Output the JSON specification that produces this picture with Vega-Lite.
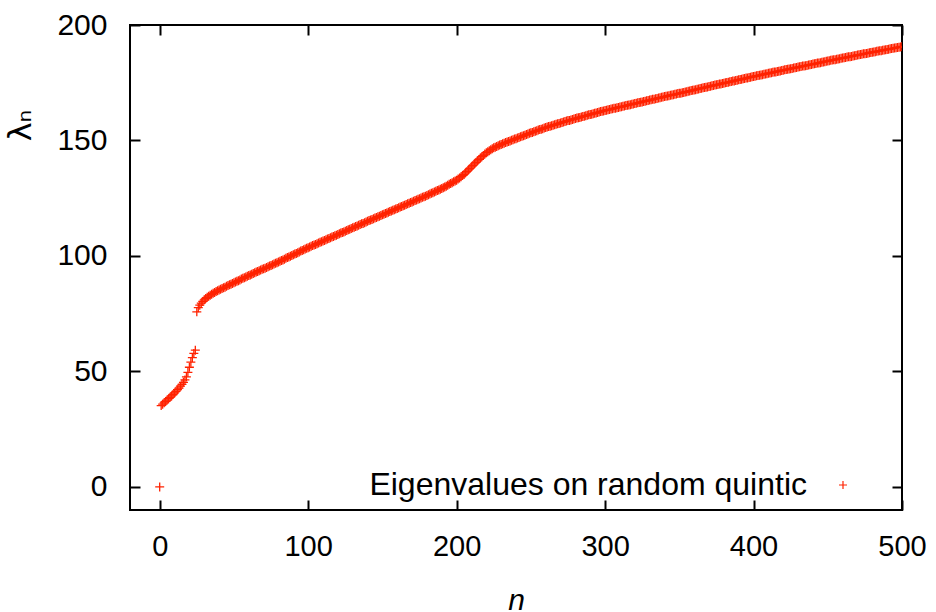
{
"$schema": "https://vega.github.io/schema/vega-lite/v6.json",
"width": 772, "height": 485,
"autosize": "none",
"padding": {"left": 130, "top": 25, "right": 34, "bottom": 102},
"background": "white",
"config": {"view": {"stroke": "black", "strokeWidth": 2}, "font": "Liberation Sans"},
"data": {"values": [
{"n":0,"v":0},{"n":1,"v":35.2},{"n":2,"v":35.8},{"n":3,"v":36.4},{"n":4,"v":37.0},{"n":5,"v":37.6},{"n":6,"v":38.2},{"n":7,"v":38.8},{"n":8,"v":39.4},{"n":9,"v":40.0},
{"n":10,"v":40.7},{"n":11,"v":41.4},{"n":12,"v":42.1},{"n":13,"v":42.8},{"n":14,"v":43.6},{"n":15,"v":44.4},{"n":16,"v":45.3},{"n":17,"v":46.3},{"n":18,"v":47.6},{"n":19,"v":49.6},
{"n":20,"v":51.8},{"n":21,"v":54.0},{"n":22,"v":56.0},{"n":23,"v":57.8},{"n":24,"v":59.2},{"n":25,"v":75.8},{"n":26,"v":77.6},{"n":27,"v":78.7},{"n":28,"v":79.6},{"n":29,"v":80.3},
{"n":30,"v":81.0},{"n":31,"v":81.6},{"n":32,"v":82.1},{"n":33,"v":82.6},{"n":34,"v":83.0},{"n":35,"v":83.4},{"n":36,"v":83.8},{"n":37,"v":84.2},{"n":38,"v":84.6},{"n":39,"v":84.9},
{"n":40,"v":85.3},{"n":41,"v":85.6},{"n":42,"v":85.9},{"n":43,"v":86.2},{"n":44,"v":86.5},{"n":45,"v":86.9},{"n":46,"v":87.2},{"n":47,"v":87.5},{"n":48,"v":87.8},{"n":49,"v":88.1},
{"n":50,"v":88.4},{"n":51,"v":88.7},{"n":52,"v":89.0},{"n":53,"v":89.3},{"n":54,"v":89.6},{"n":55,"v":90.0},{"n":56,"v":90.3},{"n":57,"v":90.6},{"n":58,"v":90.9},{"n":59,"v":91.2},
{"n":60,"v":91.5},{"n":61,"v":91.8},{"n":62,"v":92.1},{"n":63,"v":92.4},{"n":64,"v":92.7},{"n":65,"v":93.0},{"n":66,"v":93.3},{"n":67,"v":93.6},{"n":68,"v":93.9},{"n":69,"v":94.2},
{"n":70,"v":94.5},{"n":71,"v":94.7},{"n":72,"v":95.0},{"n":73,"v":95.3},{"n":74,"v":95.6},{"n":75,"v":95.9},{"n":76,"v":96.2},{"n":77,"v":96.5},{"n":78,"v":96.8},{"n":79,"v":97.1},
{"n":80,"v":97.4},{"n":81,"v":97.7},{"n":82,"v":98.0},{"n":83,"v":98.3},{"n":84,"v":98.6},{"n":85,"v":99.0},{"n":86,"v":99.3},{"n":87,"v":99.6},{"n":88,"v":99.9},{"n":89,"v":100.2},
{"n":90,"v":100.5},{"n":91,"v":100.8},{"n":92,"v":101.1},{"n":93,"v":101.4},{"n":94,"v":101.7},{"n":95,"v":102.1},{"n":96,"v":102.4},{"n":97,"v":102.7},{"n":98,"v":103.0},{"n":99,"v":103.3},
{"n":100,"v":103.6},{"n":101,"v":103.9},{"n":102,"v":104.2},{"n":103,"v":104.5},{"n":104,"v":104.7},{"n":105,"v":105.0},{"n":106,"v":105.3},{"n":107,"v":105.6},{"n":108,"v":105.9},{"n":109,"v":106.2},
{"n":110,"v":106.5},{"n":111,"v":106.7},{"n":112,"v":107.0},{"n":113,"v":107.3},{"n":114,"v":107.6},{"n":115,"v":107.9},{"n":116,"v":108.2},{"n":117,"v":108.4},{"n":118,"v":108.7},{"n":119,"v":109.0},
{"n":120,"v":109.3},{"n":121,"v":109.6},{"n":122,"v":109.9},{"n":123,"v":110.2},{"n":124,"v":110.4},{"n":125,"v":110.7},{"n":126,"v":111.0},{"n":127,"v":111.3},{"n":128,"v":111.6},{"n":129,"v":111.9},
{"n":130,"v":112.2},{"n":131,"v":112.4},{"n":132,"v":112.7},{"n":133,"v":113.0},{"n":134,"v":113.3},{"n":135,"v":113.6},{"n":136,"v":113.9},{"n":137,"v":114.1},{"n":138,"v":114.4},{"n":139,"v":114.7},
{"n":140,"v":115.0},{"n":141,"v":115.3},{"n":142,"v":115.6},{"n":143,"v":115.8},{"n":144,"v":116.1},{"n":145,"v":116.4},{"n":146,"v":116.7},{"n":147,"v":117.0},{"n":148,"v":117.2},{"n":149,"v":117.5},
{"n":150,"v":117.8},{"n":151,"v":118.1},{"n":152,"v":118.4},{"n":153,"v":118.6},{"n":154,"v":118.9},{"n":155,"v":119.2},{"n":156,"v":119.5},{"n":157,"v":119.8},{"n":158,"v":120.0},{"n":159,"v":120.3},
{"n":160,"v":120.6},{"n":161,"v":120.9},{"n":162,"v":121.2},{"n":163,"v":121.4},{"n":164,"v":121.7},{"n":165,"v":122.0},{"n":166,"v":122.3},{"n":167,"v":122.6},{"n":168,"v":122.8},{"n":169,"v":123.1},
{"n":170,"v":123.4},{"n":171,"v":123.7},{"n":172,"v":124.0},{"n":173,"v":124.2},{"n":174,"v":124.5},{"n":175,"v":124.8},{"n":176,"v":125.1},{"n":177,"v":125.4},{"n":178,"v":125.6},{"n":179,"v":125.9},
{"n":180,"v":126.2},{"n":181,"v":126.5},{"n":182,"v":126.8},{"n":183,"v":127.1},{"n":184,"v":127.4},{"n":185,"v":127.7},{"n":186,"v":128.0},{"n":187,"v":128.3},{"n":188,"v":128.6},{"n":189,"v":128.9},
{"n":190,"v":129.2},{"n":191,"v":129.5},{"n":192,"v":129.9},{"n":193,"v":130.2},{"n":194,"v":130.6},{"n":195,"v":131.0},{"n":196,"v":131.4},{"n":197,"v":131.7},{"n":198,"v":132.1},{"n":199,"v":132.4},
{"n":200,"v":132.8},{"n":201,"v":133.3},{"n":202,"v":133.8},{"n":203,"v":134.3},{"n":204,"v":134.8},{"n":205,"v":135.3},{"n":206,"v":136.0},{"n":207,"v":136.6},{"n":208,"v":137.3},{"n":209,"v":137.9},
{"n":210,"v":138.6},{"n":211,"v":139.2},{"n":212,"v":139.9},{"n":213,"v":140.5},{"n":214,"v":141.2},{"n":215,"v":141.8},{"n":216,"v":142.4},{"n":217,"v":143.0},{"n":218,"v":143.5},{"n":219,"v":144.1},
{"n":220,"v":144.7},{"n":221,"v":145.1},{"n":222,"v":145.5},{"n":223,"v":146.0},{"n":224,"v":146.4},{"n":225,"v":146.8},{"n":226,"v":147.1},{"n":227,"v":147.4},{"n":228,"v":147.7},{"n":229,"v":148.0},
{"n":230,"v":148.3},{"n":231,"v":148.6},{"n":232,"v":148.8},{"n":233,"v":149.1},{"n":234,"v":149.3},{"n":235,"v":149.6},{"n":236,"v":149.8},{"n":237,"v":150.1},{"n":238,"v":150.3},{"n":239,"v":150.6},
{"n":240,"v":150.8},{"n":241,"v":151.1},{"n":242,"v":151.3},{"n":243,"v":151.6},{"n":244,"v":151.8},{"n":245,"v":152.1},{"n":246,"v":152.3},{"n":247,"v":152.6},{"n":248,"v":152.8},{"n":249,"v":153.1},
{"n":250,"v":153.3},{"n":251,"v":153.5},{"n":252,"v":153.8},{"n":253,"v":154.0},{"n":254,"v":154.2},{"n":255,"v":154.5},{"n":256,"v":154.7},{"n":257,"v":154.9},{"n":258,"v":155.1},{"n":259,"v":155.4},
{"n":260,"v":155.6},{"n":261,"v":155.8},{"n":262,"v":156.0},{"n":263,"v":156.2},{"n":264,"v":156.4},{"n":265,"v":156.6},{"n":266,"v":156.8},{"n":267,"v":157.0},{"n":268,"v":157.2},{"n":269,"v":157.4},
{"n":270,"v":157.6},{"n":271,"v":157.8},{"n":272,"v":158.0},{"n":273,"v":158.2},{"n":274,"v":158.4},{"n":275,"v":158.6},{"n":276,"v":158.7},{"n":277,"v":158.9},{"n":278,"v":159.1},{"n":279,"v":159.3},
{"n":280,"v":159.5},{"n":281,"v":159.7},{"n":282,"v":159.8},{"n":283,"v":160.0},{"n":284,"v":160.2},{"n":285,"v":160.4},{"n":286,"v":160.5},{"n":287,"v":160.7},{"n":288,"v":160.9},{"n":289,"v":161.1},
{"n":290,"v":161.3},{"n":291,"v":161.4},{"n":292,"v":161.6},{"n":293,"v":161.8},{"n":294,"v":161.9},{"n":295,"v":162.1},{"n":296,"v":162.3},{"n":297,"v":162.5},{"n":298,"v":162.7},{"n":299,"v":162.8},
{"n":300,"v":163.0},{"n":301,"v":163.1},{"n":302,"v":163.3},{"n":303,"v":163.4},{"n":304,"v":163.6},{"n":305,"v":163.7},{"n":306,"v":163.9},{"n":307,"v":164.0},{"n":308,"v":164.2},{"n":309,"v":164.3},
{"n":310,"v":164.5},{"n":311,"v":164.6},{"n":312,"v":164.8},{"n":313,"v":164.9},{"n":314,"v":165.1},{"n":315,"v":165.2},{"n":316,"v":165.4},{"n":317,"v":165.5},{"n":318,"v":165.7},{"n":319,"v":165.8},
{"n":320,"v":166.0},{"n":321,"v":166.1},{"n":322,"v":166.3},{"n":323,"v":166.4},{"n":324,"v":166.6},{"n":325,"v":166.7},{"n":326,"v":166.9},{"n":327,"v":167.0},{"n":328,"v":167.2},{"n":329,"v":167.3},
{"n":330,"v":167.5},{"n":331,"v":167.6},{"n":332,"v":167.8},{"n":333,"v":167.9},{"n":334,"v":168.1},{"n":335,"v":168.2},{"n":336,"v":168.4},{"n":337,"v":168.5},{"n":338,"v":168.7},{"n":339,"v":168.8},
{"n":340,"v":169.0},{"n":341,"v":169.1},{"n":342,"v":169.3},{"n":343,"v":169.4},{"n":344,"v":169.6},{"n":345,"v":169.7},{"n":346,"v":169.8},{"n":347,"v":170.0},{"n":348,"v":170.1},{"n":349,"v":170.3},
{"n":350,"v":170.4},{"n":351,"v":170.5},{"n":352,"v":170.7},{"n":353,"v":170.8},{"n":354,"v":171.0},{"n":355,"v":171.1},{"n":356,"v":171.3},{"n":357,"v":171.4},{"n":358,"v":171.6},{"n":359,"v":171.7},
{"n":360,"v":171.9},{"n":361,"v":172.0},{"n":362,"v":172.2},{"n":363,"v":172.3},{"n":364,"v":172.5},{"n":365,"v":172.6},{"n":366,"v":172.8},{"n":367,"v":172.9},{"n":368,"v":173.1},{"n":369,"v":173.2},
{"n":370,"v":173.4},{"n":371,"v":173.5},{"n":372,"v":173.7},{"n":373,"v":173.8},{"n":374,"v":174.0},{"n":375,"v":174.1},{"n":376,"v":174.2},{"n":377,"v":174.4},{"n":378,"v":174.5},{"n":379,"v":174.7},
{"n":380,"v":174.8},{"n":381,"v":175.0},{"n":382,"v":175.1},{"n":383,"v":175.2},{"n":384,"v":175.4},{"n":385,"v":175.5},{"n":386,"v":175.7},{"n":387,"v":175.8},{"n":388,"v":176.0},{"n":389,"v":176.1},
{"n":390,"v":176.3},{"n":391,"v":176.4},{"n":392,"v":176.5},{"n":393,"v":176.7},{"n":394,"v":176.8},{"n":395,"v":177.0},{"n":396,"v":177.1},{"n":397,"v":177.3},{"n":398,"v":177.4},{"n":399,"v":177.6},
{"n":400,"v":177.7},{"n":401,"v":177.8},{"n":402,"v":178.0},{"n":403,"v":178.1},{"n":404,"v":178.2},{"n":405,"v":178.4},{"n":406,"v":178.5},{"n":407,"v":178.7},{"n":408,"v":178.8},{"n":409,"v":178.9},
{"n":410,"v":179.1},{"n":411,"v":179.2},{"n":412,"v":179.3},{"n":413,"v":179.5},{"n":414,"v":179.6},{"n":415,"v":179.7},{"n":416,"v":179.9},{"n":417,"v":180.0},{"n":418,"v":180.1},{"n":419,"v":180.3},
{"n":420,"v":180.4},{"n":421,"v":180.6},{"n":422,"v":180.7},{"n":423,"v":180.8},{"n":424,"v":181.0},{"n":425,"v":181.1},{"n":426,"v":181.2},{"n":427,"v":181.4},{"n":428,"v":181.5},{"n":429,"v":181.6},
{"n":430,"v":181.8},{"n":431,"v":181.9},{"n":432,"v":182.0},{"n":433,"v":182.2},{"n":434,"v":182.3},{"n":435,"v":182.4},{"n":436,"v":182.5},{"n":437,"v":182.7},{"n":438,"v":182.8},{"n":439,"v":182.9},
{"n":440,"v":183.1},{"n":441,"v":183.2},{"n":442,"v":183.3},{"n":443,"v":183.5},{"n":444,"v":183.6},{"n":445,"v":183.7},{"n":446,"v":183.9},{"n":447,"v":184.0},{"n":448,"v":184.1},{"n":449,"v":184.3},
{"n":450,"v":184.4},{"n":451,"v":184.5},{"n":452,"v":184.7},{"n":453,"v":184.8},{"n":454,"v":184.9},{"n":455,"v":185.0},{"n":456,"v":185.2},{"n":457,"v":185.3},{"n":458,"v":185.4},{"n":459,"v":185.6},
{"n":460,"v":185.7},{"n":461,"v":185.8},{"n":462,"v":185.9},{"n":463,"v":186.1},{"n":464,"v":186.2},{"n":465,"v":186.3},{"n":466,"v":186.4},{"n":467,"v":186.6},{"n":468,"v":186.7},{"n":469,"v":186.8},
{"n":470,"v":187.0},{"n":471,"v":187.1},{"n":472,"v":187.2},{"n":473,"v":187.3},{"n":474,"v":187.5},{"n":475,"v":187.6},{"n":476,"v":187.7},{"n":477,"v":187.8},{"n":478,"v":188.0},{"n":479,"v":188.1},
{"n":480,"v":188.2},{"n":481,"v":188.3},{"n":482,"v":188.4},{"n":483,"v":188.6},{"n":484,"v":188.7},{"n":485,"v":188.8},{"n":486,"v":188.9},{"n":487,"v":189.1},{"n":488,"v":189.2},{"n":489,"v":189.3},
{"n":490,"v":189.4},{"n":491,"v":189.5},{"n":492,"v":189.7},{"n":493,"v":189.8},{"n":494,"v":189.9},{"n":495,"v":190.0},{"n":496,"v":190.2},{"n":497,"v":190.3},{"n":498,"v":190.4},{"n":499,"v":190.5},
{"n":500,"v":190.7}
]},
"layer": [
{
"mark": {"type": "point", "shape": "M-1,0H1M0,-1V1", "filled": false, "strokeWidth": 1.3, "size": 81, "opacity": 1, "clip": true},
"encoding": {
"x": {"field": "n", "type": "quantitative", "scale": {"domain": [-20, 500], "nice": false, "zero": false},
 "axis": {"orient": "bottom", "values": [0, 100, 200, 300, 400, 500], "grid": false, "domain": false, "tickSize": -10, "tickWidth": 2, "tickColor": "black",
  "labelFontSize": 29, "labelColor": "black", "labelPadding": 32, "labelFlush": false, "labelFont": "Liberation Sans",
  "title": "n", "titleFontSize": 30, "titleFontStyle": "italic", "titleFontWeight": "normal", "titleColor": "black", "titlePadding": 24, "titleFont": "Liberation Sans"}},
"y": {"field": "v", "type": "quantitative", "scale": {"domain": [-10, 200], "nice": false, "zero": false},
 "axis": {"orient": "left", "values": [0, 50, 100, 150, 200], "grid": false, "domain": false, "tickSize": -10, "tickWidth": 2, "tickColor": "black",
  "labelFontSize": 30, "labelColor": "black", "labelPadding": 33, "labelFlush": false, "labelFont": "Liberation Sans",
  "title": "λₙ", "titleFontSize": 32, "titleFontWeight": "normal", "titleColor": "black", "titleFont": "DejaVu Sans", "titleX": -93, "titleY": 100}},
"color": {"datum": "Eigenvalues on random quintic", "type": "nominal", "scale": {"range": ["#ff2200"]},
 "legend": {"title": null, "orient": "none", "legendX": 697, "legendY": 444, "padding": 0,
  "symbolType": "M-1,0H1M0,-1V1", "symbolSize": 64, "symbolStrokeWidth": 1.2, "symbolFillColor": "transparent",
  "labelFontSize": 32, "labelFont": "Liberation Sans", "labelColor": "black", "labelAlign": "right", "labelOffset": -52, "labelLimit": 0}}
}
},
{
"mark": {"type": "point", "opacity": 0},
"encoding": {
"x": {"field": "n", "type": "quantitative",
 "axis": {"orient": "top", "values": [0, 100, 200, 300, 400, 500], "grid": false, "domain": false, "labels": false, "title": null, "tickSize": -10, "tickWidth": 2, "tickColor": "black"}},
"y": {"field": "v", "type": "quantitative",
 "axis": {"orient": "right", "values": [0, 50, 100, 150, 200], "grid": false, "domain": false, "labels": false, "title": null, "tickSize": -10, "tickWidth": 2, "tickColor": "black"}}
}
}
],
"resolve": {"axis": {"x": "independent", "y": "independent"}}
}
